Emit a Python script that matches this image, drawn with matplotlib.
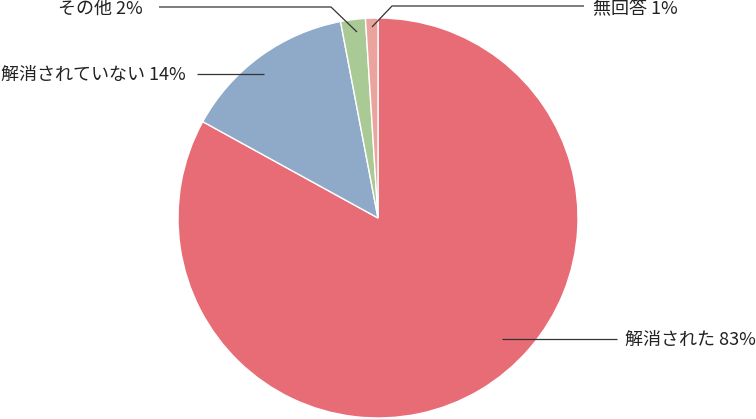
import matplotlib
matplotlib.use('Agg')
import matplotlib.pyplot as plt

plt.rcParams['font.family'] = ['Noto Sans CJK JP', 'DejaVu Sans']

labels = ['解消された', '解消されていない', 'その他', '無回答']
values = [83, 14, 2, 1]
colors = ['#E86C75', '#8FA9C9', '#A9C995', '#EBA39D']

W, H = 756, 419
fig = plt.figure(figsize=(W / 100, H / 100), dpi=100)
ax = fig.add_axes([0, 0, 1, 1])

# pie in pixel-like coords (y flipped so top of image = H)
ax.pie(values, colors=colors, startangle=90, counterclock=False,
       center=(378, H - 218), radius=200,
       wedgeprops=dict(edgecolor='white', linewidth=1))

ax.set_xlim(0, W)
ax.set_ylim(0, H)
ax.set_aspect('equal')
ax.axis('off')

# leader lines (pixel positions) and text
lc = '#333333'
fs = 13
def line(pts):
    xs = [p[0] for p in pts]
    ys = [H - p[1] for p in pts]
    ax.plot(xs, ys, color=lc, lw=0.9, solid_capstyle='butt')

line([(502, 339), (617, 339)])
ax.text(625, H - 340, f'{labels[0]} {values[0]}%', fontsize=fs, color='#222222',
        ha='left', va='center')

line([(197, 74), (264, 74)])
ax.text(186, H - 75, f'{labels[1]} {values[1]}%', fontsize=fs, color='#222222',
        ha='right', va='center')

line([(159, 7), (331, 7), (357, 32)])
ax.text(143, H - 9, f'{labels[2]} {values[2]}%', fontsize=fs, color='#222222',
        ha='right', va='center')

line([(372, 27), (392, 6), (584, 6)])
ax.text(593, H - 9, f'{labels[3]} {values[3]}%', fontsize=fs, color='#222222',
        ha='left', va='center')

fig.savefig('out.png', dpi=100)
